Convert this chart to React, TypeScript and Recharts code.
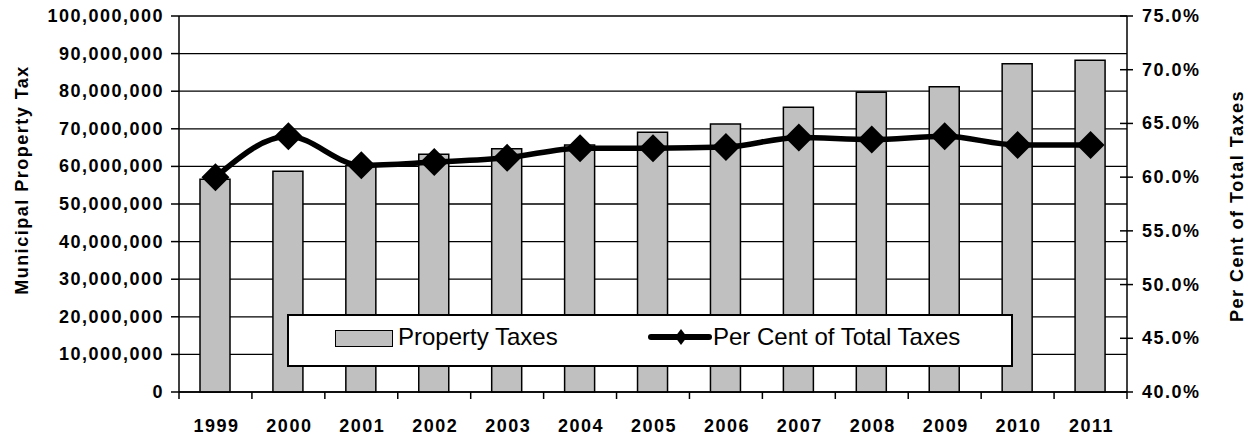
import { ComposedChart, Bar, Line, XAxis, YAxis, CartesianGrid } from 'recharts'

const years = ['1999', '2000', '2001', '2002', '2003', '2004', '2005', '2006', '2007', '2008', '2009', '2010', '2011']
const propertyTaxes = [
  56600000, 58700000, 60200000, 63200000, 64700000, 65700000, 69100000,
  71300000, 75700000, 79700000, 81200000, 87300000, 88200000,
]
const perCentOfTotal = [60.0, 63.8, 61.1, 61.4, 61.8, 62.7, 62.7, 62.8, 63.7, 63.5, 63.8, 63.0, 63.0]
const taxTicks = [0, 10000000, 20000000, 30000000, 40000000, 50000000, 60000000, 70000000, 80000000, 90000000, 100000000]
const pctTicks = [40, 45, 50, 55, 60, 65, 70, 75]

const data = years.map((year, i) => ({ year, taxes: propertyTaxes[i], pct: perCentOfTotal[i] }))

const FONT = '"Liberation Sans", Arial, sans-serif'
const CHART_W = 1257
const CHART_H = 437
const LEFT_W = 179
const RIGHT_W = 130
const TOP = 16
const X_H = 45
const PLOT_W = CHART_W - LEFT_W - RIGHT_W

const labelStyle = { fill: '#000', fontSize: 18, fontWeight: 'bold' as const, fontFamily: FONT, letterSpacing: 1.5 }

// year labels, with Excel-style tick marks between categories
const YearTick = (props: any) => {
  const { x, y, payload, index } = props
  const half = PLOT_W / years.length / 2
  return (
    <g>
      <line x1={x - half} y1={y} x2={x - half} y2={y + 7} stroke="#000" strokeWidth={1.5} />
      {index === years.length - 1 && (
        <line x1={x + half} y1={y} x2={x + half} y2={y + 7} stroke="#000" strokeWidth={1.5} />
      )}
      <text x={x + 1} y={y + 40} textAnchor="middle" {...labelStyle}>
        {payload.value}
      </text>
    </g>
  )
}

// right axis ticks cross the axis line
const PctTick = (props: any) => {
  const { x, y, payload } = props
  const axisX = x - 15
  return (
    <g>
      <line x1={axisX - 7} y1={y} x2={axisX + 6} y2={y} stroke="#000" strokeWidth={1.5} />
      <text x={x} y={y} dy={6} textAnchor="start" {...labelStyle}>
        {payload.value.toFixed(1) + '%'}
      </text>
    </g>
  )
}

const TaxTick = (props: any) => {
  const { x, y, payload } = props
  return (
    <text x={x + 1} y={y} dy={6} textAnchor="end" {...labelStyle}>
      {payload.value.toLocaleString('en-US')}
    </text>
  )
}

const Diamond = (props: any) => {
  const { cx, cy } = props
  if (cx == null || cy == null) return null
  const r = 14
  return <polygon points={`${cx},${cy - r} ${cx + r},${cy} ${cx},${cy + r} ${cx - r},${cy}`} fill="#000" />
}

const LeftTitle = (props: any) => {
  const { viewBox } = props
  const cx = viewBox.x + 22
  const cy = 180
  return (
    <text x={cx} y={cy} transform={`rotate(-90, ${cx}, ${cy})`} textAnchor="middle" dominantBaseline="central" {...labelStyle}>
      Municipal Property Tax
    </text>
  )
}

const RightTitle = (props: any) => {
  const { viewBox } = props
  const cx = viewBox.x + 110
  const cy = 206
  return (
    <text x={cx} y={cy} transform={`rotate(-90, ${cx}, ${cy})`} textAnchor="middle" dominantBaseline="central" {...labelStyle}>
      Per Cent of Total Taxes
    </text>
  )
}

function ChartLegend() {
  return (
    <div
      style={{
        position: 'absolute',
        left: 287,
        top: 314,
        width: 726,
        height: 53,
        boxSizing: 'border-box',
        border: '2px solid #000',
        background: '#fff',
        fontFamily: FONT,
        fontSize: 24,
        lineHeight: '24px',
        color: '#000',
      }}
    >
      <div
        style={{
          position: 'absolute',
          left: 46,
          top: 14,
          width: 58,
          height: 17,
          boxSizing: 'border-box',
          border: '1.5px solid #000',
          background: '#c0c0c0',
        }}
      />
      <span style={{ position: 'absolute', left: 109, top: 9, whiteSpace: 'nowrap' }}>Property Taxes</span>
      <svg style={{ position: 'absolute', left: 358, top: 10 }} width={66} height={22}>
        <line x1={4} y1={11} x2={62} y2={11} stroke="#000" strokeWidth={6} strokeLinecap="round" />
        <polygon points="34,3 40,11 34,19 28,11" fill="#000" />
      </svg>
      <span style={{ position: 'absolute', left: 424, top: 9, whiteSpace: 'nowrap' }}>Per Cent of Total Taxes</span>
    </div>
  )
}

export default function App() {
  return (
    <div style={{ position: 'absolute', left: 0, top: 0, width: CHART_W, height: CHART_H, background: '#fff' }}>
      <ComposedChart
        width={CHART_W}
        height={CHART_H}
        data={data}
        margin={{ top: TOP, right: 0, bottom: 0, left: 0 }}
        barCategoryGap={0}
      >
        <CartesianGrid yAxisId="left" horizontal vertical={false} stroke="#000" strokeWidth={1.3} />
        <XAxis
          dataKey="year"
          height={X_H}
          tickLine={false}
          tickSize={0}
          tickMargin={0}
          interval={0}
          axisLine={{ stroke: '#000', strokeWidth: 1.5 }}
          tick={<YearTick />}
        />
        <YAxis
          yAxisId="left"
          orientation="left"
          width={LEFT_W}
          domain={[0, 100000000]}
          ticks={taxTicks}
          interval={0}
          tickSize={8}
          tickMargin={8}
          tickLine={{ stroke: '#000', strokeWidth: 1.5 }}
          axisLine={{ stroke: '#000', strokeWidth: 1.5 }}
          tick={<TaxTick />}
          label={<LeftTitle />}
        />
        <YAxis
          yAxisId="right"
          orientation="right"
          width={RIGHT_W}
          domain={[40, 75]}
          ticks={pctTicks}
          interval={0}
          tickSize={6}
          tickMargin={9}
          tickLine={false}
          axisLine={{ stroke: '#000', strokeWidth: 1.5 }}
          tick={<PctTick />}
          label={<RightTitle />}
        />
        <Bar
          yAxisId="left"
          dataKey="taxes"
          barSize={30}
          fill="#c0c0c0"
          stroke="#000"
          strokeWidth={1.5}
          isAnimationActive={false}
        />
        <Line
          yAxisId="right"
          dataKey="pct"
          type="monotone"
          stroke="#000"
          strokeWidth={5.5}
          dot={<Diamond />}
          activeDot={false}
          isAnimationActive={false}
        />
      </ComposedChart>
      <ChartLegend />
    </div>
  )
}
